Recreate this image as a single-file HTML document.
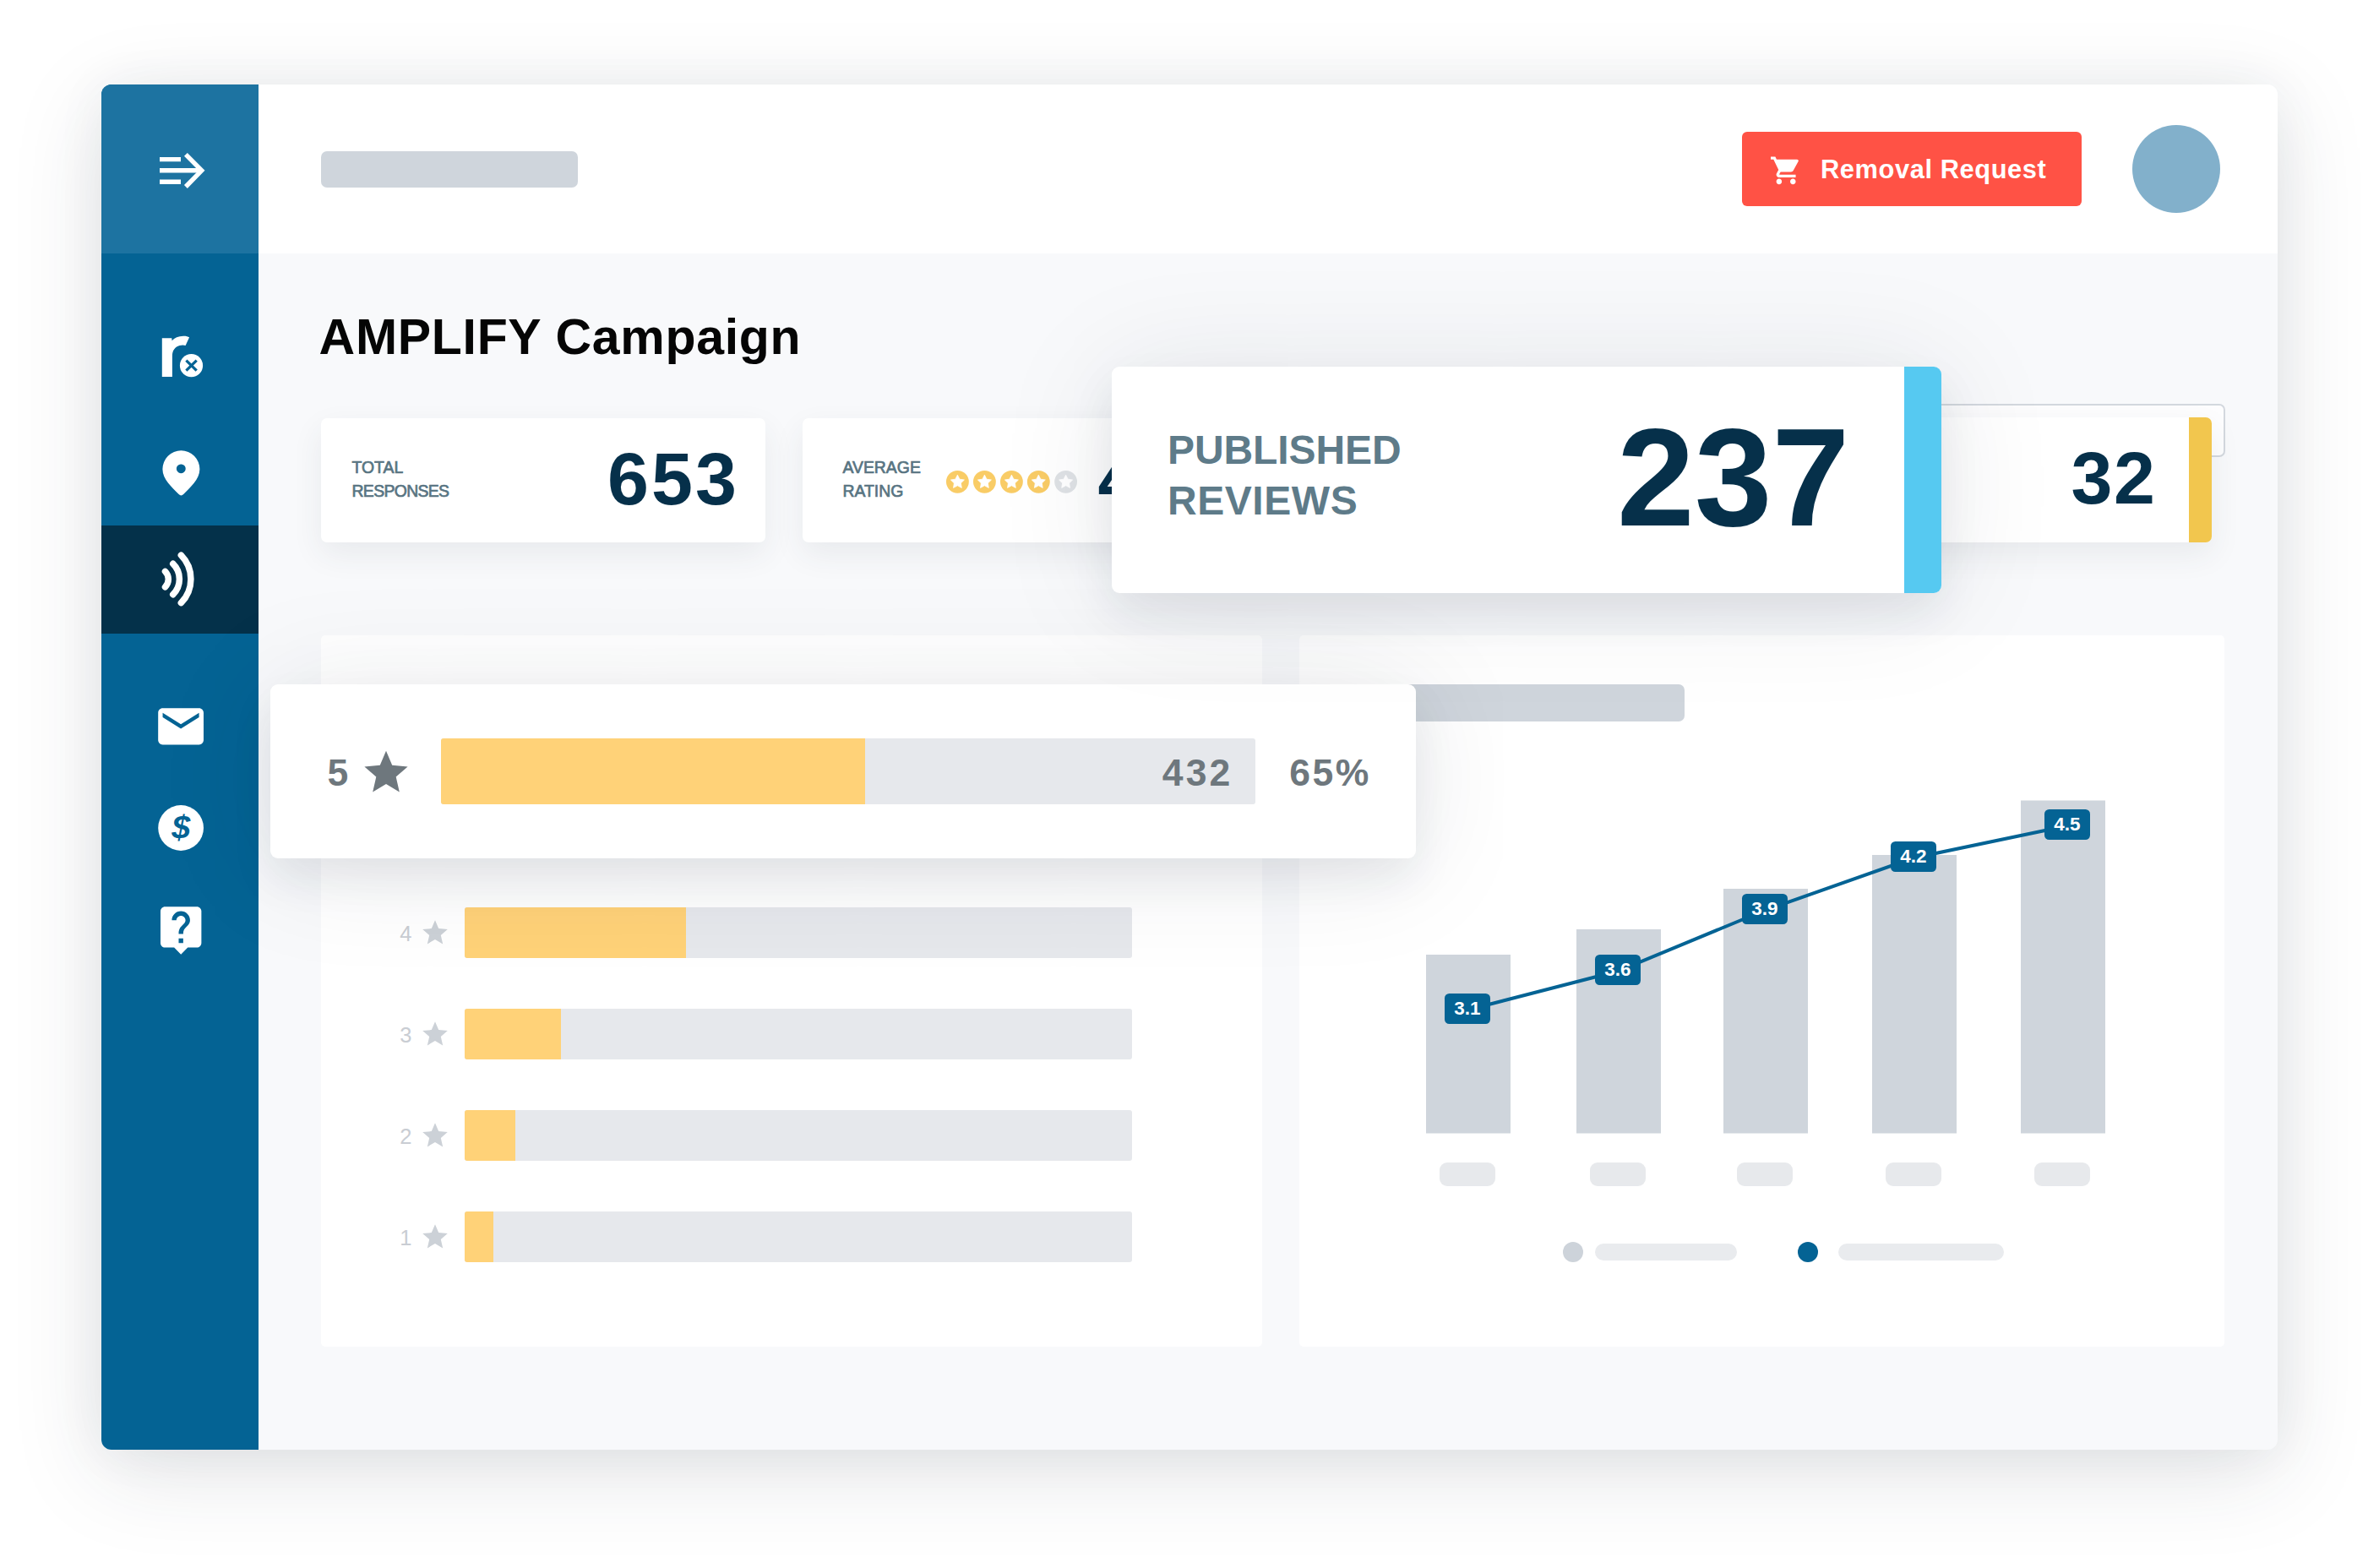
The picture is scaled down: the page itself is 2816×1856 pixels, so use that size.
<!DOCTYPE html>
<html lang="en">
<head>
<meta charset="utf-8">
<title>AMPLIFY Campaign</title>
<style>
*{box-sizing:border-box;margin:0;padding:0}
html,body{width:2816px;height:1856px;overflow:hidden;background:#fff}
body{position:relative;font-family:"Liberation Sans",sans-serif;color:#06304a}
.abs{position:absolute}
#win{position:absolute;left:120px;top:100px;width:2576px;height:1616px;border-radius:12px;background:#f8f9fb;
 box-shadow:0 26px 110px rgba(35,45,65,.13),0 2px 60px rgba(35,45,65,.06)}
#clip{position:absolute;left:0;top:0;width:100%;height:100%;border-radius:12px;overflow:hidden}
#side{position:absolute;left:0;top:0;width:186px;height:100%;background:#046394}
#sidehead{position:absolute;left:0;top:0;width:186px;height:200px;background:#1d73a1}
#active{position:absolute;left:0;top:522px;width:186px;height:128px;background:#04314a}
#head{position:absolute;left:186px;top:0;right:0;height:200px;background:#fff}
.ph{position:absolute;background:#cfd5dc;border-radius:7px}
.card{position:absolute;background:#fff;border-radius:7px;box-shadow:0 14px 36px rgba(50,60,80,.08)}
.lbl{position:absolute;font-size:19.4px;line-height:27.8px;color:#587482;white-space:nowrap;-webkit-text-stroke:.7px #587482}
.num{position:absolute;font-weight:700;font-size:88px;line-height:88px;letter-spacing:3px;color:#06304a;white-space:nowrap}
.t{position:absolute;white-space:nowrap}
.g{font-size:44.5px;line-height:50px;color:#6e777d;font-weight:700}
svg{position:absolute;left:0;top:0;overflow:visible}
</style>
</head>
<body>
<div id="win">
 <div id="clip">
  <div id="side"></div>
  <div id="sidehead"></div>
  <div id="active"></div>
  <div id="head"></div>
 </div>
</div>

<!-- header -->
<div class="ph" style="left:380px;top:179px;width:304px;height:43px"></div>
<div class="abs" id="btn" style="left:2062px;top:156px;width:402px;height:88px;border-radius:6px;background:#ff5245"></div>
<div class="t" id="btntxt" style="left:2155px;top:181px;font-size:30.8px;line-height:40px;font-weight:700;color:#fff;letter-spacing:.6px">Removal Request</div>
<div class="abs" style="left:2524px;top:148px;width:104px;height:104px;border-radius:50%;background:#82b0cb"></div>

<!-- title -->
<div class="t" id="title" style="left:377.6px;top:364px;font-size:59px;line-height:70px;font-weight:700;color:#050505;letter-spacing:.7px">AMPLIFY Campaign</div>


<!-- stat cards -->
<div class="card" style="left:380px;top:495px;width:526px;height:147px"></div>
<div class="lbl" id="l1" style="left:416.5px;top:540px">TOTAL<br><span style="letter-spacing:-.65px">RESPONSES</span></div>
<div class="num" id="n653" style="left:719px;top:522.6px">653</div>

<div class="card" style="left:950px;top:495px;width:526px;height:147px"></div>
<div class="lbl" id="l2" style="left:997.5px;top:540px">AVERAGE<br>RATING</div>
<div class="num" id="n4" style="left:1299.6px;top:522.6px">4.2</div>

<!-- outlined ghost + 32 card -->
<div class="abs" style="left:2200px;top:478px;width:434px;height:63px;border:2px solid #d3d8de;border-radius:7px;background:#fdfdfe"></div>
<div class="card" style="left:2200px;top:494px;width:418px;height:148px;overflow:hidden"><div class="abs" style="right:0;top:0;width:27px;height:100%;background:#f2c64e"></div></div>
<div class="num" id="n32" style="left:2451.6px;top:522.4px;letter-spacing:1.4px">32</div>

<!-- bottom panels -->
<div class="abs" id="pl" style="left:380px;top:752px;width:1114px;height:842px;background:#fff;border-radius:5px"></div>
<div class="abs" id="pr" style="left:1538px;top:752px;width:1095px;height:842px;background:#fff;border-radius:5px"></div>
<div class="ph" style="left:1600px;top:810px;width:394px;height:44px"></div>
<div class="abs" style="left:550px;top:1074px;width:790px;height:60px;background:#e6e8ec;border-radius:3px"></div>
<div class="abs" style="left:550px;top:1074px;width:262px;height:60px;background:#ffd278;border-radius:3px 0 0 3px"></div>
<div class="t rl" id="r4" style="left:473.3px;top:1090px;font-size:25.5px;line-height:30px;color:#c9cdd3">4</div>
<div class="abs" style="left:550px;top:1194px;width:790px;height:60px;background:#e6e8ec;border-radius:3px"></div>
<div class="abs" style="left:550px;top:1194px;width:114px;height:60px;background:#ffd278;border-radius:3px 0 0 3px"></div>
<div class="t rl" id="r3" style="left:473.3px;top:1210px;font-size:25.5px;line-height:30px;color:#c9cdd3">3</div>
<div class="abs" style="left:550px;top:1314px;width:790px;height:60px;background:#e6e8ec;border-radius:3px"></div>
<div class="abs" style="left:550px;top:1314px;width:60px;height:60px;background:#ffd278;border-radius:3px 0 0 3px"></div>
<div class="t rl" id="r2" style="left:473.3px;top:1330px;font-size:25.5px;line-height:30px;color:#c9cdd3">2</div>
<div class="abs" style="left:550px;top:1434px;width:790px;height:60px;background:#e6e8ec;border-radius:3px"></div>
<div class="abs" style="left:550px;top:1434px;width:34px;height:60px;background:#ffd278;border-radius:3px 0 0 3px"></div>
<div class="t rl" id="r1" style="left:473.3px;top:1450px;font-size:25.5px;line-height:30px;color:#c9cdd3">1</div>
<svg width="2816" height="1856" viewBox="0 0 2816 1856">
<polygon fill="#ccd1d7" points="515.0,1089.2 519.2,1099.1 529.8,1100.0 521.8,1107.0 524.2,1117.4 515.0,1111.9 505.8,1117.4 508.2,1107.0 500.2,1100.0 510.8,1099.1"/>
<polygon fill="#ccd1d7" points="515.0,1209.2 519.2,1219.1 529.8,1220.0 521.8,1227.0 524.2,1237.4 515.0,1231.9 505.8,1237.4 508.2,1227.0 500.2,1220.0 510.8,1219.1"/>
<polygon fill="#ccd1d7" points="515.0,1329.2 519.2,1339.1 529.8,1340.0 521.8,1347.0 524.2,1357.4 515.0,1351.9 505.8,1357.4 508.2,1347.0 500.2,1340.0 510.8,1339.1"/>
<polygon fill="#ccd1d7" points="515.0,1449.2 519.2,1459.1 529.8,1460.0 521.8,1467.0 524.2,1477.4 515.0,1471.9 505.8,1477.4 508.2,1467.0 500.2,1460.0 510.8,1459.1"/>
</svg>
<svg width="2816" height="1856" viewBox="0 0 2816 1856" font-family="Liberation Sans, sans-serif">
<rect x="1688" y="1130" width="100" height="211.5" fill="#cfd5dc"/>
<rect x="1866" y="1100" width="100" height="241.5" fill="#cfd5dc"/>
<rect x="2040" y="1052" width="100" height="289.5" fill="#cfd5dc"/>
<rect x="2216" y="1012" width="100" height="329.5" fill="#cfd5dc"/>
<rect x="2392" y="947.5" width="100" height="394.0" fill="#cfd5dc"/>
<rect x="1704" y="1376" width="66" height="28" rx="9" fill="#e7e9ec"/>
<rect x="1882" y="1376" width="66" height="28" rx="9" fill="#e7e9ec"/>
<rect x="2056" y="1376" width="66" height="28" rx="9" fill="#e7e9ec"/>
<rect x="2232" y="1376" width="66" height="28" rx="9" fill="#e7e9ec"/>
<rect x="2408" y="1376" width="66" height="28" rx="9" fill="#e7e9ec"/>
<polyline fill="none" stroke="#046394" stroke-width="4" points="1737,1195.5 1915,1149.5 2089,1077.5 2265,1015.5 2447,977.5"/>
<rect x="1710" y="1176" width="54" height="36" rx="5.5" fill="#046394"/>
<text x="1737" y="1201" text-anchor="middle" font-size="22.5" font-weight="700" fill="#fff">3.1</text>
<rect x="1888" y="1130" width="54" height="36" rx="5.5" fill="#046394"/>
<text x="1915" y="1155" text-anchor="middle" font-size="22.5" font-weight="700" fill="#fff">3.6</text>
<rect x="2062" y="1058" width="54" height="36" rx="5.5" fill="#046394"/>
<text x="2089" y="1083" text-anchor="middle" font-size="22.5" font-weight="700" fill="#fff">3.9</text>
<rect x="2238" y="996" width="54" height="36" rx="5.5" fill="#046394"/>
<text x="2265" y="1021" text-anchor="middle" font-size="22.5" font-weight="700" fill="#fff">4.2</text>
<rect x="2420" y="958" width="54" height="36" rx="5.5" fill="#046394"/>
<text x="2447" y="983" text-anchor="middle" font-size="22.5" font-weight="700" fill="#fff">4.5</text>
<circle cx="1862" cy="1482" r="12" fill="#cdd3da"/><rect x="1888" y="1472" width="168" height="20" rx="10" fill="#e9ebee"/>
<circle cx="2140" cy="1482" r="12" fill="#046394"/><rect x="2176" y="1472" width="196" height="20" rx="10" fill="#e9ebee"/>
</svg>

<!-- average rating stars -->
<svg width="2816" height="1856" viewBox="0 0 2816 1856">
<circle cx="1133.4" cy="570.3" r="13.4" fill="#f9cc66"/><polygon fill="#fff" stroke="#fff" stroke-width=".8" stroke-linejoin="round" points="1133.4,562.2 1135.9,567.2 1141.4,568.0 1137.4,571.9 1138.3,577.4 1133.4,574.8 1128.5,577.4 1129.4,571.9 1125.4,568.0 1130.9,567.2"/>
<circle cx="1165.4" cy="570.3" r="13.4" fill="#f9cc66"/><polygon fill="#fff" stroke="#fff" stroke-width=".8" stroke-linejoin="round" points="1165.4,562.2 1167.9,567.2 1173.4,568.0 1169.4,571.9 1170.3,577.4 1165.4,574.8 1160.5,577.4 1161.4,571.9 1157.4,568.0 1162.9,567.2"/>
<circle cx="1197.4" cy="570.3" r="13.4" fill="#f9cc66"/><polygon fill="#fff" stroke="#fff" stroke-width=".8" stroke-linejoin="round" points="1197.4,562.2 1199.9,567.2 1205.4,568.0 1201.4,571.9 1202.3,577.4 1197.4,574.8 1192.5,577.4 1193.4,571.9 1189.4,568.0 1194.9,567.2"/>
<circle cx="1229.3" cy="570.3" r="13.4" fill="#f9cc66"/><polygon fill="#fff" stroke="#fff" stroke-width=".8" stroke-linejoin="round" points="1229.3,562.2 1231.8,567.2 1237.3,568.0 1233.3,571.9 1234.2,577.4 1229.3,574.8 1224.4,577.4 1225.3,571.9 1221.3,568.0 1226.8,567.2"/>
<circle cx="1261.6" cy="570.3" r="13.4" fill="#dfe2e5"/><polygon fill="#fff" stroke="#fff" stroke-width=".8" stroke-linejoin="round" points="1261.6,562.2 1264.1,567.2 1269.6,568.0 1265.6,571.9 1266.5,577.4 1261.6,574.8 1256.7,577.4 1257.6,571.9 1253.6,568.0 1259.1,567.2"/>
</svg>

<!-- floating 5 star card -->
<div class="abs" id="f5" style="left:320px;top:810px;width:1356px;height:206px;background:#fff;border-radius:9px;box-shadow:0 24px 50px rgba(30,40,60,.08),0 8px 140px rgba(30,40,60,.10)"></div>
<div class="abs" style="left:522px;top:874px;width:964px;height:78px;background:#e6e8ec;border-radius:3px"></div>
<div class="abs" style="left:522px;top:874px;width:502px;height:78px;background:#ffd278;border-radius:3px 0 0 3px"></div>
<div class="t g" id="g5" style="left:387.6px;top:890.4px">5</div>
<div class="t g" id="g432" style="left:1375.7px;top:890.4px;letter-spacing:3.2px">432</div>
<div class="t g" id="g65" style="left:1526.2px;top:890.4px;letter-spacing:2.5px">65%</div>
<svg width="2816" height="1856" viewBox="0 0 2816 1856"><polygon fill="#6e777d" points="457.0,888.8 464.2,905.7 482.6,907.4 468.7,919.5 472.8,937.5 457.0,928.0 441.2,937.5 445.3,919.5 431.4,907.4 449.8,905.7"/></svg>

<!-- big published reviews card -->
<div class="abs" id="big" style="left:1316px;top:434px;width:982px;height:268px;background:#fff;border-radius:9px;overflow:hidden;box-shadow:0 24px 50px rgba(30,40,60,.08),0 8px 140px rgba(30,40,60,.10)"><div class="abs" style="right:0;top:0;width:44px;height:100%;background:#56c9f1"></div></div>
<div class="t" id="pub" style="left:1382px;top:503px;font-size:48px;line-height:60.2px;letter-spacing:-.1px;color:#5e7b89;font-weight:700">PUBLISHED<br><span style="letter-spacing:.55px">REVIEWS</span></div>
<div class="t" id="n237" style="left:1914px;top:480px;font-size:165px;line-height:170px;font-weight:700;color:#06304a">237</div>

<!-- icons -->
<svg width="2816" height="1856" viewBox="0 0 2816 1856">
 <!-- menu arrow -->
 <g stroke="#fff" fill="none" stroke-width="5.4">
  <path d="M189 188.6H214M189 201.7H239M189 215.2H214"/>
  <path d="M219.9 182.8L238.7 201.8L219.9 221" stroke-linejoin="miter"/>
 </g>
 <!-- r x -->
 <path fill="#fff" d="M191.8 446V400.3H203.3L203.6 403.2C206.5 399.6 211 397.9 217 397.7C220 397.6 222.5 398.2 224.1 399.2L219.6 409C217.5 408.2 215 408.3 212.5 409C207.5 410.5 203.9 414.5 203.9 421.5V446Z"/>
 <circle cx="226.5" cy="432.65" r="13.6" fill="#fff"/>
 <path d="M220.4 426.7L232.7 438.7M232.7 426.7L220.4 438.7" stroke="#046394" stroke-width="3.2" fill="none"/>
 <!-- pin -->
 <path fill="#fff" fill-rule="evenodd" d="M214.4 533.3a22 22 0 0 1 22 22c0 12.5-11.5 21.5-19.2 29.8q-2.8 2.8-5.6 0c-7.7-8.3-19.2-17.3-19.2-29.8a22 22 0 0 1 22-22zM214.3 549.4a5.4 5.4 0 1 0 .01 0z"/>
 <!-- broadcast -->
 <g stroke="#fff" fill="none" stroke-width="7.5" stroke-linecap="round">
  <path d="M195.5 676.4A13 13 0 0 1 195.5 694.8"/>
  <path d="M204.75 667.3A25.5 25.5 0 0 1 204.75 703.7"/>
  <path d="M214.35 657.2A40.2 40.2 0 0 1 214.35 713.6"/>
 </g>
 <!-- mail -->
 <g transform="translate(181.8 827.6) scale(2.69)" fill="#fff"><path d="M20 4H4c-1.1 0-1.99.9-1.99 2L2 18c0 1.1.9 2 2 2h16c1.1 0 2-.9 2-2V6c0-1.1-.9-2-2-2zm0 4l-8 5-8-5V6l8 5 8-5v2z"/></g>
 <!-- dollar -->
 <circle cx="214.1" cy="980" r="26.9" fill="#fff"/>
 <text id="dollar" x="214.2" y="993" text-anchor="middle" font-family="Liberation Sans, sans-serif" font-weight="700" font-style="italic" font-size="39.5" fill="#046394">$</text>
 <!-- help -->
 <g transform="translate(181.9 1067.8) scale(2.69)" fill="#fff"><path d="M19 2H5c-1.110 0-2 .9-2 2v14c0 1.100.890 2 2 2h4l3 3 3-3h4c1.100 0 2-.9 2-2V4c0-1.100-.9-2-2-2zm-6 16h-2v-2h2v2zm2.070-7.750l-.9.920C13.450 11.900 13 12.500 13 14h-2v-.5c0-1.100.450-2.100 1.170-2.830l1.240-1.260c.370-.360.590-.860.590-1.410 0-1.100-.9-2-2-2s-2 .9-2 2H8c0-2.210 1.790-4 4-4s4 1.790 4 4c0 .880-.360 1.680-.930 2.250z"/></g>
 <!-- cart -->
 <g transform="translate(2094.4 182.1) scale(1.64)" fill="#fff"><path d="M7 18c-1.100 0-1.990.9-1.990 2S5.900 22 7 22s2-.9 2-2-.9-2-2-2zM1 2v2h2l3.600 7.590-1.350 2.450c-.160.280-.250.610-.250.960 0 1.100.9 2 2 2h12v-2H7.420c-.140 0-.250-.110-.250-.250l.030-.120.9-1.630h7.450c.750 0 1.410-.410 1.750-1.030l3.580-6.490c.080-.140.120-.310.120-.480 0-.550-.450-1-1-1H5.210l-.940-2H1zm16 16c-1.100 0-1.990.9-1.990 2s.890 2 1.990 2 2-.9 2-2-.9-2-2-2z"/></g>
</svg>



<!-- PLACEHOLDER-REST -->
</body>
</html>
